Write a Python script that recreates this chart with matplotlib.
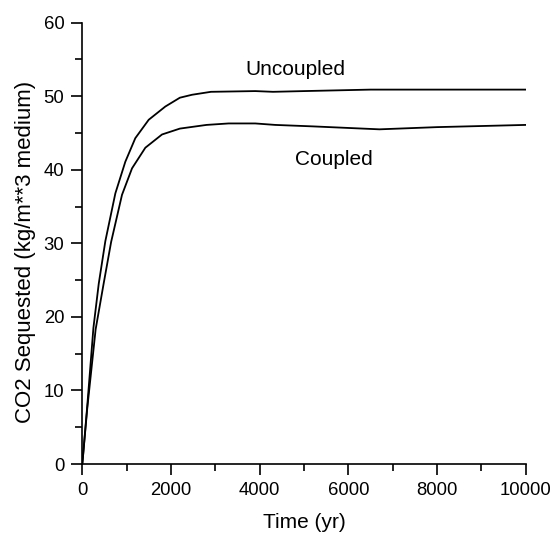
import numpy as np
import matplotlib
matplotlib.use("Agg")
import matplotlib.pyplot as plt
from matplotlib.ticker import MultipleLocator

plt.rcParams['font.family'] = ['Liberation Sans', 'DejaVu Sans']

# values
uncoupled_t = [0, 110, 250, 370, 519, 745, 970, 1195, 1497, 1872, 2200, 2474,
               2900, 3900, 4300, 5000, 6500, 8000, 10000]
uncoupled_v = [0, 7.8, 18.5, 24.5, 30.3, 36.8, 41.1, 44.3, 46.8, 48.6, 49.8, 50.2,
               50.6, 50.7, 50.6, 50.7, 50.9, 50.9, 50.9]

coupled_t = [0, 110, 300, 480, 650, 895, 1121, 1421, 1797, 2200, 2800, 3300,
             3900, 4350, 5200, 6700, 8000, 10000]
coupled_v = [0, 7.5, 18.3, 24.5, 30.2, 36.6, 40.2, 43.0, 44.8, 45.6, 46.1, 46.3,
             46.3, 46.1, 45.9, 45.5, 45.8, 46.1]

fig = plt.figure(figsize=(5.54, 5.36), dpi=100)
ax = fig.add_axes([0.1486, 0.1343, 0.8004, 0.8234])

ax.plot(uncoupled_t, uncoupled_v, color='black', lw=1.3)
ax.plot(coupled_t, coupled_v, color='black', lw=1.3)

ax.text(4800, 52.9, 'Uncoupled', fontsize=15, ha='center', va='baseline')
ax.text(5680, 40.7, 'Coupled', fontsize=15, ha='center', va='baseline')

ax.set_xlim(0, 10000)
ax.set_ylim(0, 60)
ax.xaxis.set_major_locator(MultipleLocator(2000))
ax.xaxis.set_minor_locator(MultipleLocator(1000))
ax.yaxis.set_major_locator(MultipleLocator(10))
ax.yaxis.set_minor_locator(MultipleLocator(5))

for s in ['top', 'right']:
    ax.spines[s].set_visible(False)
for s in ['left', 'bottom']:
    ax.spines[s].set_linewidth(1.2)

ax.tick_params(which='major', length=8, width=1.2, labelsize=13.3, pad=5)
ax.tick_params(which='minor', length=5.3, width=1.2)

ax.set_xlabel('Time (yr)', fontsize=15, labelpad=10)
ax.set_ylabel('CO2 Sequested (kg/m**3 medium)', fontsize=16, labelpad=5.5)
ax.yaxis.label.set_y(0.48)

fig.savefig('out.png', dpi=100)
